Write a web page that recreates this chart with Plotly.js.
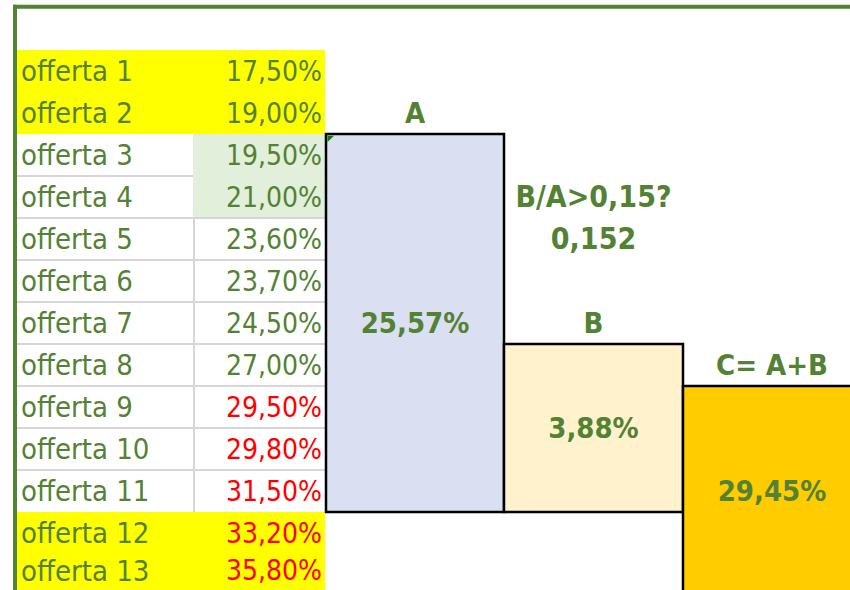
<!DOCTYPE html>
<html>
<head>
<meta charset="utf-8">
<script src="https://cdn.plot.ly/plotly-3.0.1.min.js"></script>
<style>html,body{margin:0;padding:0;background:#fff;overflow:hidden}#chart{width:850px;height:590px}</style>
</head>
<body>
<div id="chart"></div>
<script>
// ---- data ----
const offerLabels = ['offerta 1','offerta 2','offerta 3','offerta 4','offerta 5','offerta 6','offerta 7',
  'offerta 8','offerta 9','offerta 10','offerta 11','offerta 12','offerta 13'];
const offerRates = [17.50, 19.00, 19.50, 21.00, 23.60, 23.70, 24.50, 27.00, 29.50, 29.80, 31.50, 33.20, 35.80];
const blockLabels = ['A', 'B', 'C= A+B'];
const blockValues = [25.57, 3.88, 29.45];
const ratioQuestion = 'B/A>0,15?';
const ratioValue = 0.152;

// ---- styles / layout constants ----
const GREEN = '#548235', RED = '#FF0000', YELLOW = '#FFFF00', LIGHTGREEN = '#E2EFDA', GRID = '#D6D6D6';
const colEdges = [17, 194, 326, 504, 683, 861];   // spreadsheet column edges (x axis units)
const FONT = 'DejaVu Sans Condensed, DejaVu Sans, sans-serif';
const yellowRows = [1, 2, 12, 13];
const greenValueRows = [3, 4];
const redFrom = 9;
const blockRows = [[3, 11], [8, 11], [9, 14]];      // row spans of A, B, C cells
const blockFills = ['#DAE0F2', '#FFF2CC', '#FFCC00'];
const blockHeaderRows = [2, 7, 8];
const blockValueRows = [7, 9.5, 11];
const TXT_DY = 0.07;                                  // small downward nudge of cell text
const LAST_ROW_DY = -0.04;                            // keep the partly visible last row inside the frame

const rowOf = i => i + 1;
const rowTop = r => r - 0.5, rowBot = r => r + 0.5;
const colMid = c => (colEdges[c] + colEdges[c + 1]) / 2;

const shapes = [];
// row fills
offerLabels.forEach((_, i) => {
  const r = rowOf(i);
  if (yellowRows.includes(r)) {
    shapes.push({type:'rect', layer:'below', xref:'x', yref:'y', x0:colEdges[0], x1:colEdges[2]-1, y0:rowTop(r), y1:rowBot(r), fillcolor:YELLOW, line:{width:0}});
  } else if (greenValueRows.includes(r)) {
    shapes.push({type:'rect', layer:'below', xref:'x', yref:'y', x0:colEdges[1]-1, x1:colEdges[2]-1, y0:rowTop(r), y1:rowBot(r), fillcolor:LIGHTGREEN, line:{width:0}});
  }
});
// grid lines
offerLabels.forEach((_, i) => {
  const r = rowOf(i);
  if (r >= 3 && r <= 10) {
    const x1 = (r >= 4) ? colEdges[2]-1 : colEdges[1]-1;
    shapes.push({type:'line', layer:'below', xref:'x', yref:'y', x0:colEdges[0], x1:x1, y0:rowBot(r), y1:rowBot(r), line:{color:GRID, width:2}});
  }
});
shapes.push({type:'line', layer:'below', xref:'x', yref:'y', x0:colEdges[1], x1:colEdges[1], y0:rowTop(5), y1:rowBot(11), line:{color:GRID, width:2}});
// blocks A, B, C
blockRows.forEach((span, k) => {
  shapes.push({type:'rect', layer:'below', xref:'x', yref:'y', x0:colEdges[k+2], x1:colEdges[k+3], y0:rowTop(span[0]), y1:rowBot(span[1]),
    fillcolor:blockFills[k], line:{color:'#000', width:2.5}});
});
// small green indicator triangle in A's top-left cell
shapes.push({type:'path', xref:'x', yref:'y', layer:'above',
  path:`M${colEdges[2]+1.5},${rowTop(3)+0.04} L${colEdges[2]+8},${rowTop(3)+0.04} L${colEdges[2]+1.5},${rowTop(3)+0.19} Z`,
  fillcolor:'#008000', line:{width:0}});
// outer green frame
shapes.push({type:'line', xref:'x', yref:'y', x0:13, x1:860, y0:-0.530, y1:-0.530, line:{color:GREEN, width:4}});
shapes.push({type:'line', xref:'x', yref:'y', x0:15, x1:15, y0:-0.575, y1:14, line:{color:GREEN, width:4}});

const rows = offerLabels.map((_, i) => rowOf(i));
const lastRow = rows.length;
const ty = v => v + TXT_DY;
const rowTextY = rows.map(r => r === lastRow ? r + LAST_ROW_DY : ty(r));
const traces = [
  {type:'scatter', mode:'text', x:offerLabels.map(() => colEdges[0] + 4), y:rowTextY, text:offerLabels,
   textposition:'middle right', textfont:{family:FONT, size:29, color:GREEN}, hoverinfo:'skip'},
  {type:'scatter', mode:'text', x:offerRates.map(() => colEdges[2] - 4), y:rowTextY, customdata:offerRates,
   texttemplate:'%{customdata:.2f}%', textposition:'middle left',
   textfont:{family:FONT, size:28, color:rows.map(r => r >= redFrom ? RED : GREEN)}, hoverinfo:'skip'},
  {type:'scatter', mode:'text', x:blockLabels.map((_, k) => colMid(k+2)), y:blockHeaderRows.map(ty), text:blockLabels,
   textposition:'middle center', textfont:{family:FONT, size:29, color:GREEN, weight:'bold'}, hoverinfo:'skip'},
  {type:'scatter', mode:'text', x:blockValues.map((_, k) => colMid(k+2)), y:blockValueRows.map(ty), customdata:blockValues,
   texttemplate:'%{customdata:.2f}%', textposition:'middle center',
   textfont:{family:FONT, size:29, color:GREEN, weight:'bold'}, hoverinfo:'skip'},
  {type:'scatter', mode:'text', x:[colMid(3), colMid(3)], y:[4, 5].map(ty), customdata:[null, ratioValue],
   texttemplate:[ratioQuestion, '%{customdata:.3f}'], textposition:'middle center',
   textfont:{family:FONT, size:30, color:GREEN, weight:'bold'}, hoverinfo:'skip'}
];

const layout = {
  width:850, height:590, margin:{l:0, r:0, t:0, b:0},
  paper_bgcolor:'#fff', plot_bgcolor:'#fff', showlegend:false, hovermode:false,
  separators:',.',
  xaxis:{range:[0, 850], visible:false, fixedrange:true},
  yaxis:{range:[1 + 519/42, 1 - 71/42], visible:false, fixedrange:true},
  shapes:shapes
};
Plotly.newPlot('chart', traces, layout, {staticPlot:true, displayModeBar:false});
</script>
</body>
</html>
